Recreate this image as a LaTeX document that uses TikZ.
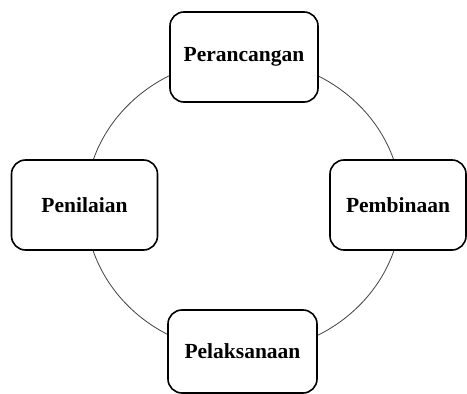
\documentclass[tikz,border=0pt]{standalone}
\usepackage{fontspec}
\setmainfont{Liberation Serif}
\begin{document}
\begin{tikzpicture}[x=1pt,y=1pt,
  stage/.style={draw, line width=1.6pt, rounded corners=14pt, fill=white, inner sep=0pt,
    font=\fontsize{21.5}{24}\selectfont\bfseries},
  ring/.style={line width=0.8pt, black!75}]
\useasboundingbox (0,0) rectangle (467,-394);
\coordinate (c) at (243.5,-205.5);
\draw[ring] (c) ellipse [x radius=158, y radius=147];
\node[stage, minimum width=148pt, minimum height=90pt] (top) at (244,-57) {Perancangan};
\node[stage, minimum width=146pt, minimum height=90pt] (left) at (84.5,-205) {Penilaian};
\node[stage, minimum width=136pt, minimum height=90pt] (right) at (398,-205) {Pembinaan};
\node[stage, minimum width=149pt, minimum height=83pt] (bottom) at (242.5,-351.5) {Pelaksanaan};
\end{tikzpicture}
\end{document}
